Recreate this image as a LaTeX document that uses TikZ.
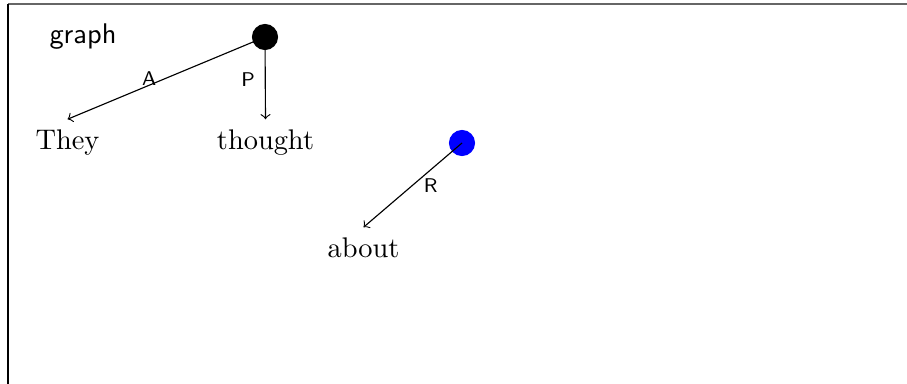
\documentclass[tikz,border=0pt]{standalone}
\begin{document}
\begin{tikzpicture}[x=0.3521pt,y=-0.3521pt,
  word/.style={font=\normalsize, anchor=base},
  dotnode/.style={circle, fill=#1, inner sep=0pt, minimum size=9.2pt},
  lbl/.style={font=\sffamily\scriptsize, inner sep=0pt},
  conn/.style={->, line width=0.4pt}]
\useasboundingbox (0,0) rectangle (907,384);
\draw[black!60, line width=0.5pt] (8,4) -- (907,4);
\draw[black, line width=0.5pt] (8,4) -- (8,384);
\node[font=\sffamily, anchor=base] (title) at (83,43) {graph};
\node[dotnode=black] (b) at (265,37) {};
\node[dotnode=blue] (u) at (462,143) {};
\node[word] (they) at (67.5,149) {They};
\node[word] (thought) at (265.5,149) {thought};
\node[word] (about) at (363.5,257) {about};
\draw[conn] (b.center) -- node[lbl, pos=0.587, yshift=2.3pt] {A} (they.north);
\draw[conn] (b.center) -- node[lbl, pos=0.52, xshift=-6pt] {P} (thought.north);
\draw[conn] (u.center) -- node[lbl, pos=0.51, xshift=6.7pt] {R} (about.north);
\end{tikzpicture}
\end{document}
